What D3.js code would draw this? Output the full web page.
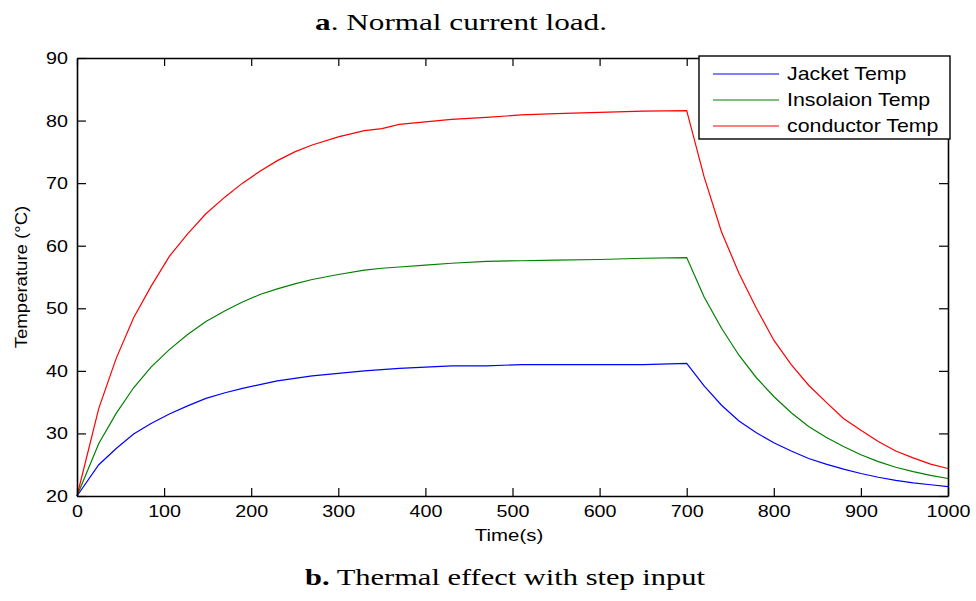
<!DOCTYPE html>
<html>
<head>
<meta charset="utf-8">
<script src="https://cdn.jsdelivr.net/npm/d3@7"></script>
<style>
  body { margin: 0; background: #fff; }
  svg { display: block; }
</style>
</head>
<body>
<svg id="chart" width="976" height="601"></svg>
<script>
// time samples (s)
const times = [0, 25, 45, 65, 85, 106, 127, 148, 170, 190, 210, 230, 250, 270, 300, 330, 350, 370, 400, 430, 470, 510, 550, 600, 650, 700,
  720, 740, 760, 780, 800, 820, 840, 860, 880, 900, 920, 940, 960, 980, 1000]

const jacketTemp = [20, 25.0, 27.6, 29.9, 31.6, 33.1, 34.4, 35.6, 36.5, 37.2, 37.8, 38.4, 38.8, 39.2, 39.6, 40.0, 40.2, 40.4, 40.6, 40.8, 40.8, 41.0, 41.0, 41.0, 41.0, 41.2,
  37.6, 34.5, 32.0, 30.1, 28.5, 27.2, 26.0, 25.1, 24.3, 23.6, 23.0, 22.5, 22.1, 21.8, 21.5]

const insulationTemp = [20, 28.4, 33.2, 37.3, 40.6, 43.4, 45.8, 47.9, 49.6, 51.0, 52.2, 53.1, 53.9, 54.6, 55.4, 56.1, 56.4, 56.6, 56.9, 57.2, 57.5, 57.6, 57.7, 57.8, 58.0, 58.1,
  51.8, 46.8, 42.5, 38.9, 35.9, 33.3, 31.1, 29.4, 27.9, 26.6, 25.5, 24.6, 23.9, 23.3, 22.8]

const conductorTemp = [20, 34.0, 42.0, 48.5, 53.5, 58.3, 61.9, 65.1, 67.8, 70.0, 71.9, 73.6, 75.0, 76.1, 77.4, 78.4, 78.7, 79.4, 79.8, 80.2, 80.5, 80.9, 81.1, 81.3, 81.5, 81.6,
  71.0, 62.2, 55.6, 50.0, 44.9, 41.0, 37.7, 35.0, 32.4, 30.5, 28.7, 27.2, 26.1, 25.1, 24.4]

const seriesNames = ['Jacket Temp', 'Insolaion Temp', 'conductor Temp']
const seriesColors = ['#0000ff', '#008000', '#ff0000']
const xTicks = [0, 100, 200, 300, 400, 500, 600, 700, 800, 900, 1000]
const yTicks = [20, 30, 40, 50, 60, 70, 80, 90]

const svg = d3.select('#chart')
const plotLeft = 77, plotRight = 948, plotTop = 58, plotBottom = 496

const x = d3.scaleLinear().domain([0, 1000]).range([plotLeft, plotRight])
const y = d3.scaleLinear().domain([20, 90]).range([plotBottom, plotTop])

const tickFont = 'Liberation Sans, Arial, sans-serif'
const serifFont = 'Liberation Serif, Times New Roman, serif'

// title and caption (the source figure is a bit stretched sideways)
svg.append('text')
  .attr('transform', 'translate(461,30) scale(1.3,1)')
  .attr('text-anchor', 'middle')
  .attr('font-family', serifFont)
  .attr('font-size', '24px')
  .html('<tspan font-weight="bold">a</tspan>. Normal current load.')

svg.append('text')
  .attr('transform', 'translate(505,585) scale(1.27,1)')
  .attr('text-anchor', 'middle')
  .attr('font-family', serifFont)
  .attr('font-size', '24px')
  .html('<tspan font-weight="bold">b.</tspan> Thermal effect with step input')

// lines
const data = [jacketTemp, insulationTemp, conductorTemp]
const line = d3.line()
  .x((d, i) => x(times[i]))
  .y(d => y(d))

svg.selectAll('path.series')
  .data(data)
  .enter()
  .append('path')
  .attr('class', 'series')
  .attr('d', line)
  .attr('fill', 'none')
  .attr('stroke', (d, i) => seriesColors[i])
  .attr('stroke-width', 1.2)

// axes, ticks inward on all four sides
const frame = svg.append('g')
frame.append('g')
  .attr('transform', `translate(0,${plotBottom})`)
  .call(d3.axisBottom(x).tickValues(xTicks).tickFormat(d3.format('d')).tickSizeInner(-8).tickSizeOuter(0).tickPadding(9))
frame.append('g')
  .attr('class', 'yleft')
  .attr('transform', `translate(${plotLeft},0)`)
  .call(d3.axisLeft(y).tickValues(yTicks).tickSizeInner(-9).tickSizeOuter(0).tickPadding(9))
frame.append('g')
  .attr('transform', `translate(0,${plotTop})`)
  .call(d3.axisTop(x).tickValues(xTicks).tickSizeInner(-8).tickSizeOuter(0).tickFormat(''))
frame.append('g')
  .attr('transform', `translate(${plotRight},0)`)
  .call(d3.axisRight(y).tickValues(yTicks).tickSizeInner(-9).tickSizeOuter(0).tickFormat(''))

frame.selectAll('.domain').attr('stroke', '#000').attr('stroke-width', 1.6)
frame.selectAll('.tick line').attr('stroke', '#000').attr('stroke-width', 1.2)
frame.selectAll('.tick text')
  .attr('font-family', tickFont)
  .attr('font-size', '17px')
  .attr('fill', '#000')
  .attr('transform', 'scale(1.16,1)')
// keep the right edge of the y labels in place after the stretch
frame.selectAll('.yleft .tick text').attr('x', -9 / 1.16)

// axis labels
svg.append('text')
  .attr('transform', 'translate(509,541) scale(1.2,1)')
  .attr('text-anchor', 'middle')
  .attr('font-family', tickFont)
  .attr('font-size', '17px')
  .text('Time(s)')

svg.append('text')
  .attr('transform', `translate(27,${(plotTop + plotBottom) / 2})rotate(-90) scale(1.16,1)`)
  .attr('text-anchor', 'middle')
  .attr('font-family', tickFont)
  .attr('font-size', '16px')
  .text('Temperature (°C)')

// legend
const legend = svg.append('g').attr('transform', 'translate(699,56)')
legend.append('rect')
  .attr('width', 251).attr('height', 83)
  .attr('fill', '#fff')
  .attr('stroke', '#000')
  .attr('stroke-width', 1.4)

seriesNames.forEach(function(name, i) {
  const ly = 18 + i * 26
  legend.append('line')
    .attr('x1', 14).attr('x2', 80)
    .attr('y1', ly).attr('y2', ly)
    .attr('stroke', seriesColors[i])
    .attr('stroke-width', 1.2)
  legend.append('text')
    .attr('transform', `translate(88,${ly + 6}) scale(1.22,1)`)
    .attr('font-family', tickFont)
    .attr('font-size', '17.5px')
    .text(name)
})
</script>
</body>
</html>
